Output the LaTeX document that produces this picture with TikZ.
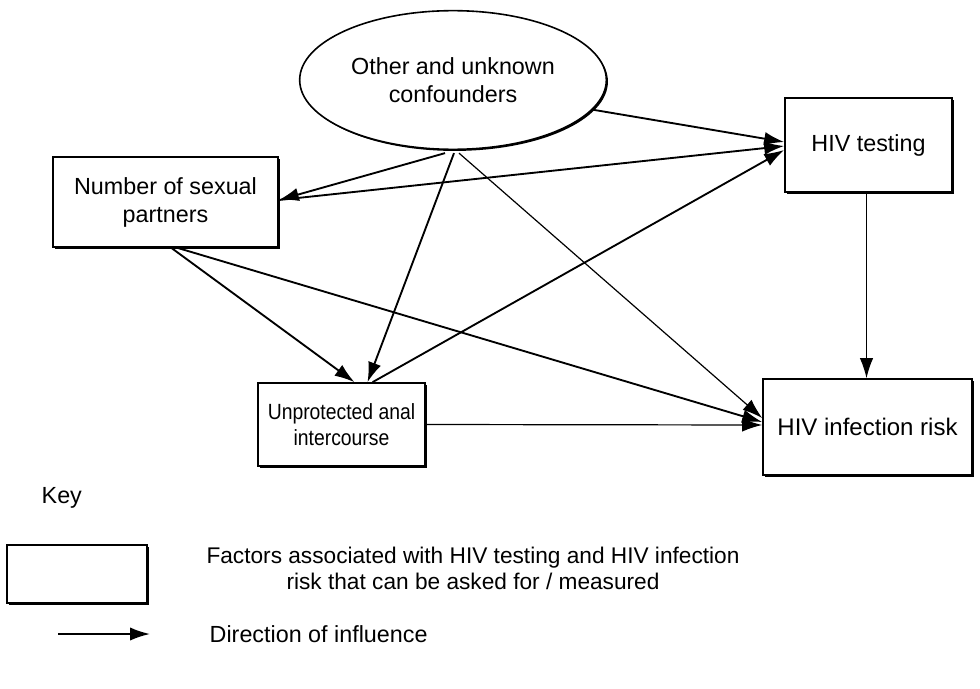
\documentclass[tikz,border=0pt]{standalone}
\usepackage{fontspec}
\setmainfont{Liberation Sans}
\usetikzlibrary{shapes.geometric,arrows.meta,shadows,calc}
\begin{document}
\begin{tikzpicture}[x=0.75pt,y=-0.75pt,
  every node/.style={font=\fontsize{17.5}{21}\selectfont},
  factor/.style={draw,line width=1.2pt,fill=white,align=center,inner sep=0pt,
    drop shadow={shadow xshift=1.6pt,shadow yshift=-1.6pt,fill=black,opacity=1}},
  conf/.style={ellipse,draw,line width=1.2pt,fill=white,align=center,inner sep=0pt,
    drop shadow={shadow xshift=1.2pt,shadow yshift=-1.2pt,fill=black,opacity=1}},
  tip/.style={-{Latex[length=15pt,width=10pt]}},
  thickarrow/.style={line width=1.4pt,tip},
  thinarrow/.style={line width=0.9pt,tip}]
\useasboundingbox (0,0) rectangle (980,688);
% nodes
\node[conf,minimum width=230pt,minimum height=104pt] (ell) at (453,80) {Other and unknown\\confounders};
\node[factor,minimum width=168.75pt,minimum height=67.5pt] (num) at (165.5,202) {Number of sexual\\partners};
\node[factor,minimum width=125.25pt,minimum height=70.5pt] (test) at (868.5,145) {HIV testing};
\node[factor,minimum width=125.25pt,minimum height=62.25pt,font=\fontsize{16.5}{20}\selectfont] (unp) at (341.5,424.5) {\scalebox{0.88}[1]{Unprotected anal}\\\scalebox{0.88}[1]{intercourse}};
\node[factor,minimum width=156.75pt,minimum height=72pt,font=\fontsize{18}{21}\selectfont] (inf) at (867.5,427) {HIV infection risk};
% key
\node[anchor=west] (key) at (37,498) {Key};
\node[factor,minimum width=105pt,minimum height=43.5pt] (keybox) at (77,574) {};
\node[align=center,font=\fontsize{17}{19.5}\selectfont] (keytext) at (473,568) {Factors associated with HIV testing and HIV infection\\risk that can be asked for / measured};
\coordinate (ka) at (58,634);
\coordinate (kb) at (150,634);
\draw[thickarrow] (ka) -- (kb);
\node[anchor=west] (keyarrow) at (205,634) {Direction of influence};
% connectors
\draw[thickarrow] (ell.-12) -- ($(test.west)+(0,-3)$);
\draw[thickarrow] ($(ell.south)+(-8,3)$) -- ($(num.east)+(0,-2)$);
\draw[thickarrow] ($(ell.south)+(1,3)$) -- ($(unp.north)+(26,0)$);
\draw[thinarrow] ($(ell.south)+(6,3)$) -- ($(inf.west)+(0,-9)$);
\draw[thickarrow] ($(num.east)+(0,-2)$) -- ($(test.west)+(0,1)$);
\draw[thickarrow] ($(num.south west)+(119,0)$) -- ($(unp.north)+(13,0)$);
\draw[thickarrow] ($(num.south west)+(125,0)$) -- ($(inf.west)+(0,-5)$);
\draw[thickarrow] ($(unp.north)+(31,0)$) -- ($(test.west)+(0,5)$);
\draw[thinarrow] (unp.east) -- ($(inf.west)+(0,-2)$);
\draw[thinarrow] ($(test.south)+(-2,0)$) -- ($(inf.north)+(-1,0)$);
\end{tikzpicture}
\end{document}
